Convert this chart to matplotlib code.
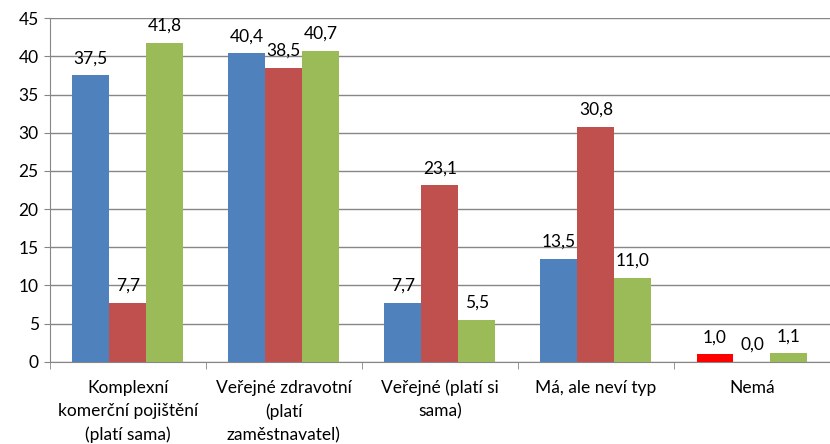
import matplotlib.pyplot as plt
import numpy as np

plt.rcParams['font.family'] = ['Lato', 'DejaVu Sans']

# data
categories = ['Komplexní\nkomerční pojištění\n(platí sama)',
              'Veřejné zdravotní\n(platí\nzaměstnavatel)',
              'Veřejné (platí si\nsama)',
              'Má, ale neví typ',
              'Nemá']
blue_vals = [37.5, 40.4, 7.7, 13.5, 1.0]
red_vals = [7.7, 38.5, 23.1, 30.8, 0.0]
green_vals = [41.8, 40.7, 5.5, 11.0, 1.1]

blue = '#4F81BD'
red = '#C0504D'
green = '#9BBB59'

fig = plt.figure(figsize=(8.3, 4.44), dpi=100)
ax = fig.add_axes([0.06, 0.185, 0.94, 0.774])

index = np.arange(len(categories))
width = 0.237

blue_colors = [blue] * 4 + ['#FF0000']
rects = []
rects.append(ax.bar(index - width, blue_vals, width, color=blue_colors, zorder=3))
rects.append(ax.bar(index, red_vals, width, color=red, zorder=3))
rects.append(ax.bar(index + width, green_vals, width, color=green, zorder=3))

for group in rects:
    for r in group:
        h = r.get_height()
        ax.annotate('{:.1f}'.format(h).replace('.', ','),
                    xy=(r.get_x() + r.get_width() / 2, h),
                    xytext=(0, 6.5), textcoords='offset points',
                    ha='center', va='bottom', fontsize=12.5, color='black')

ax.set_xlim(-0.5, len(categories) - 0.5)
ax.set_ylim(0, 45)
ax.set_yticks(np.arange(0, 46, 5))
ax.tick_params(axis='y', labelsize=12.5, length=4, color='#868686', pad=4,
               labelcolor='black')

ax.set_xticks(index)
ax.set_xticklabels(categories, fontsize=12.5, linespacing=1.55)
ax.set_xticks(np.arange(-0.5, len(categories), 1), minor=True)
ax.tick_params(axis='x', which='major', length=0, pad=13, labelcolor='black')
ax.tick_params(axis='x', which='minor', length=5, color='#868686')

ax.grid(axis='y', color='#868686', linewidth=1, zorder=0)
for s in ['top', 'right']:
    ax.spines[s].set_visible(False)
ax.spines['left'].set_color('#868686')
ax.spines['bottom'].set_color('#868686')

plt.savefig('out.png')
